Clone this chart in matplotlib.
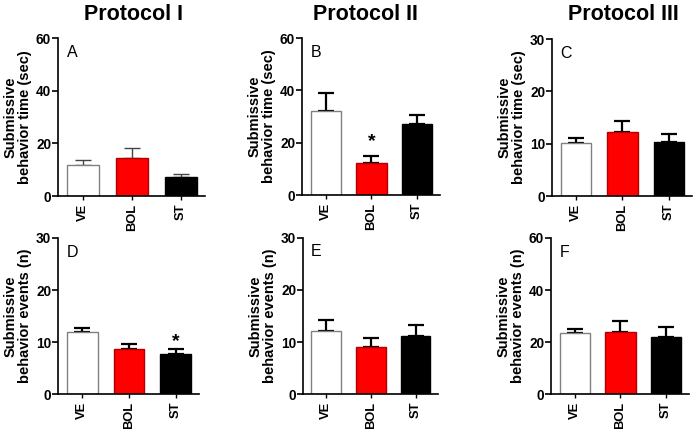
import matplotlib
matplotlib.use("Agg")
import matplotlib.pyplot as plt

plt.rcParams['font.family'] = ['Liberation Sans', 'DejaVu Sans']

groups = ["VE", "BOL", "ST"]
bar_colors = ["white", "#ff0000", "black"]
edge_colors = ["#808080", "#b00000", "black"]

titles = ["Protocol I", "Protocol II", "Protocol III"]
panel_letters = ["A", "B", "C", "D", "E", "F"]

time_label = "Submissive\nbehavior time (sec)"
events_label = "Submissive\nbehavior events (n)"

# Row 1: submissive behavior time (sec)
means_A = [11.8, 14.3, 7.2]
sem_A = [1.8, 4.1, 1.3]
means_B = [32.2, 12.1, 27.3]
sem_B = [6.8, 2.9, 3.2]
means_C = [10.2, 12.2, 10.4]
sem_C = [0.8, 2.1, 1.4]
# Row 2: submissive behavior events (n)
means_D = [11.9, 8.7, 7.7]
sem_D = [0.9, 0.9, 1.0]
means_E = [12.1, 9.1, 11.2]
sem_E = [2.2, 1.7, 2.0]
means_F = [23.4, 23.8, 22.1]
sem_F = [1.6, 4.3, 3.8]

ymax = [60, 60, 30, 30, 30, 60]
yticks_list = [[0, 20, 40, 60], [0, 20, 40, 60], [0, 10, 20, 30],
               [0, 10, 20, 30], [0, 10, 20, 30], [0, 20, 40, 60]]
# significance markers: (panel index, group index, y value)
stars = [(1, 1, 20.3), (3, 2, 10.2)]

all_means = [means_A, means_B, means_C, means_D, means_E, means_F]
all_sems = [sem_A, sem_B, sem_C, sem_D, sem_E, sem_F]
ylabels = [time_label] * 3 + [events_label] * 3

W, H = 694, 429
fig = plt.figure(figsize=(W / 100, H / 100), dpi=100)

# axes boxes in pixels: (left, right, top, bottom)
boxes = [(58, 205, 38, 196), (302, 440, 38, 195), (552, 692, 39, 196),
         (58, 199, 238, 394.3), (303, 438, 237.5, 394.3), (551, 689, 238, 394.3)]

axes = []
for i, (l, r, t, b) in enumerate(boxes):
    ax = fig.add_axes([l / W, 1 - b / H, (r - l) / W, (b - t) / H])
    axes.append(ax)
    x = range(len(groups))
    means = all_means[i]
    sems = all_sems[i]
    ax.bar(x, means, width=0.66, color=bar_colors, edgecolor=edge_colors,
           linewidth=1.0, zorder=2)
    elw = 1.0 if i == 0 else 1.6
    ecol = "#444444" if i == 0 else "black"
    ax.errorbar(x, means, yerr=[[0] * len(means), sems], fmt="none",
                ecolor=ecol, elinewidth=elw, capsize=5.5, capthick=elw, zorder=1)
    ax.set_xlim(-0.52, 2.5)
    ax.set_ylim(0, ymax[i])
    ax.set_yticks(yticks_list[i])
    ax.set_xticks(list(x))
    ax.set_xticklabels(groups, rotation=90, fontweight="bold", fontsize=9.3)
    for lab in ax.get_yticklabels():
        lab.set_fontweight("bold")
        lab.set_fontsize(9.8)
    ax.spines["top"].set_visible(False)
    ax.spines["right"].set_visible(False)
    ax.spines["left"].set_linewidth(1.2)
    ax.spines["bottom"].set_linewidth(1.2)
    ax.tick_params(axis="y", length=4, width=1.2, pad=1)
    ax.tick_params(axis="x", length=3, width=1.0, pad=2.5)
    ax.set_ylabel(ylabels[i], fontweight="bold", fontsize=10.5, labelpad=3,
                  linespacing=1.05)
    ax.text(0.06, 0.91, panel_letters[i], transform=ax.transAxes,
            fontsize=11.5, va="center", ha="left")

for (pi, gi, yv) in stars:
    axes[pi].text(gi, yv, "*", ha="center", va="center", fontsize=14,
                  fontweight="bold")

title_x = [134, 365, 623]
for t, tx in zip(titles, title_x):
    fig.text(tx / W, 1 - 14 / H, t, ha="center", va="center",
             fontsize=15.5, fontweight="bold")

fig.savefig("out.png", dpi=100)
